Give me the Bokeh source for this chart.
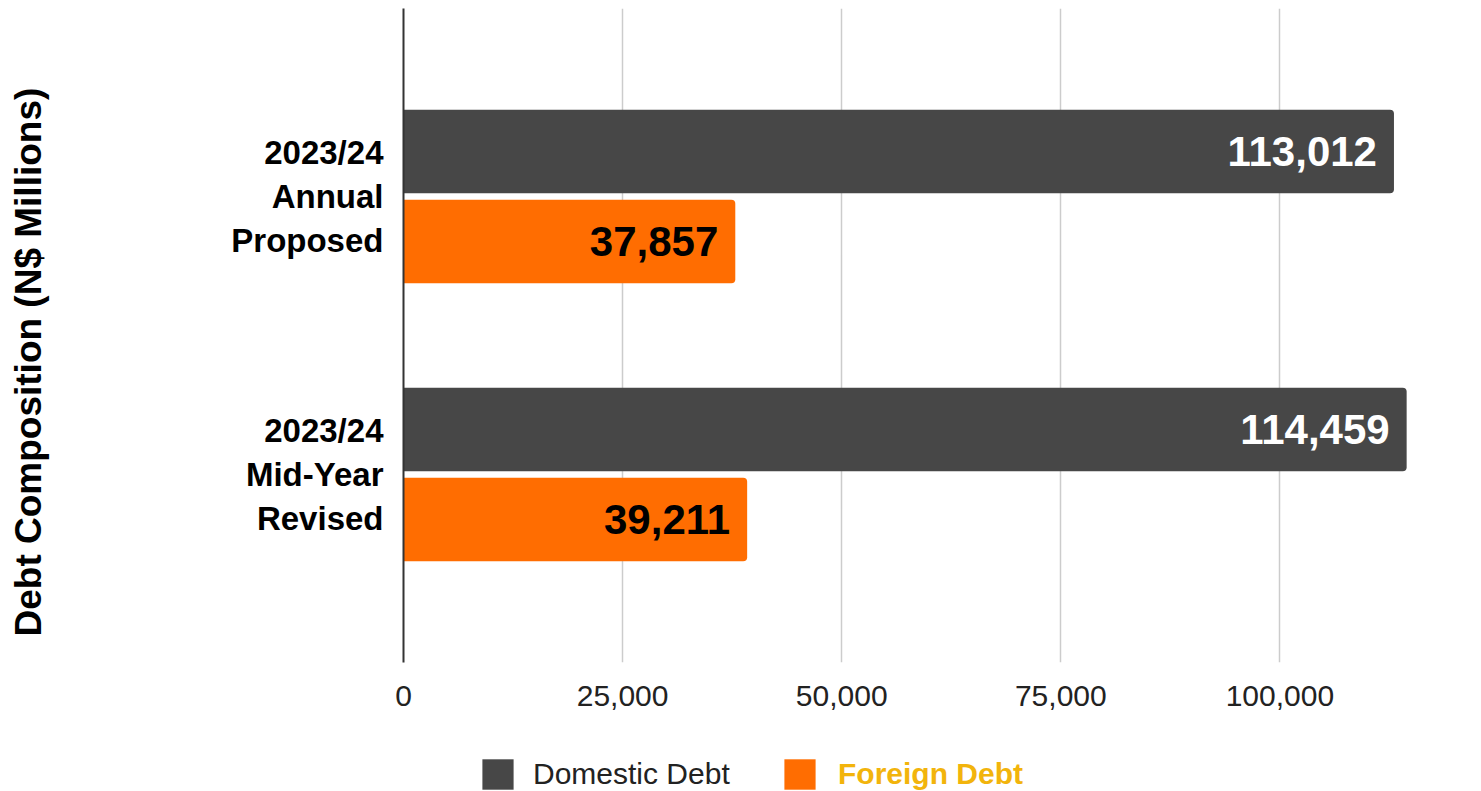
from bokeh.plotting import figure
from bokeh.layouts import column
from bokeh.models import (Range1d, Legend, LegendItem, ColumnDataSource,
                          FixedTicker, NumeralTickFormatter, Title, LinearAxis,
                          CustomJSTickFormatter)
from bokeh.transform import dodge
from bokeh.core.properties import value
from bokeh.embed import file_html
from bokeh.resources import INLINE

# ---- data ----
categories = ["2023/24\nAnnual\nProposed", "2023/24\nMid-Year\nRevised"]
domestic_debt = [113012, 114459]
foreign_debt = [37857, 39211]
x_ticks = [0, 25000, 50000, 75000, 100000]
series_names = ["Domestic Debt", "Foreign Debt"]
y_title = "Debt Composition (N$ Millions)"

FONT = value("Liberation Sans")
DOM_COLOR = "#474747"
FOR_COLOR = "#FF6D01"
LEG2_TEXT = "#F2B40C"

# category positions: first category on top
n = len(categories)
cat_pos = [n - 1 - i for i in range(n)]

src = ColumnDataSource(dict(
    pos=cat_pos,
    dom=domestic_debt,
    fore=foreign_debt,
    dom_lbl=[f"{v:,}" for v in domestic_debt],
    fore_lbl=[f"{v:,}" for v in foreign_debt],
))

p = figure(width=1481, height=720,
           y_range=Range1d(-0.676, n - 1 + 0.676),
           x_range=Range1d(0, 123000),
           output_backend="svg", toolbar_location=None,
           min_border_left=403, min_border_top=8, min_border_right=0,
           min_border_bottom=58)
p.outline_line_color = None
p.extra_y_ranges = {"spacer": Range1d(0, 1)}

r_dom = p.hbar(y=dodge("pos", 0.162), right="dom", left=0, height=0.3,
               source=src, fill_color=DOM_COLOR, line_color=None,
               border_radius=(0, 4, 4, 0))
r_for = p.hbar(y=dodge("pos", -0.162), right="fore", left=0, height=0.3,
               source=src, fill_color=FOR_COLOR, line_color=None,
               border_radius=(0, 4, 4, 0))

p.text(x="dom", y=dodge("pos", 0.162), text="dom_lbl", source=src,
       text_align="right", text_baseline="middle", x_offset=-17,
       text_font=FONT, text_font_style="bold", text_font_size="42px", text_color="white")
p.text(x="fore", y=dodge("pos", -0.162), text="fore_lbl", source=src,
       text_align="right", text_baseline="middle", x_offset=-17,
       text_font=FONT, text_font_style="bold", text_font_size="42px", text_color="black")

# x axis
p.xaxis.ticker = FixedTicker(ticks=x_ticks)
p.xaxis.formatter = NumeralTickFormatter(format="0,0")
p.xaxis.axis_line_color = None
p.xaxis.major_tick_line_color = None
p.xaxis.minor_tick_line_color = None
p.xaxis.major_tick_out = 0
p.xaxis.major_label_standoff = 23
p.xaxis.major_label_text_font = "Liberation Sans"
p.xaxis.major_label_text_font_size = "30px"
p.xaxis.major_label_text_color = "#222222"
p.xgrid.grid_line_color = "#cccccc"
p.xgrid.grid_line_width = 1.5

# y axis (category labels)
p.ygrid.grid_line_color = None
p.yaxis.ticker = FixedTicker(ticks=cat_pos)
p.yaxis.major_label_overrides = {pos: cat for pos, cat in zip(cat_pos, categories)}
p.yaxis.axis_line_color = "#333333"
p.yaxis.axis_line_width = 2
p.yaxis.major_tick_line_color = None
p.yaxis.minor_tick_line_color = None
p.yaxis.major_tick_out = 0
p.yaxis.minor_tick_out = 0
p.yaxis.major_label_standoff = 20
p.yaxis.major_label_text_font = "Liberation Sans"
p.yaxis.major_label_text_font_style = "bold"
p.yaxis.major_label_text_font_size = "33px"
p.yaxis.major_label_text_color = "black"

# invisible spacer axis (one hidden tick) to push the title to the far left
spacer = LinearAxis(y_range_name="spacer", ticker=FixedTicker(ticks=[0.5]),
                    formatter=CustomJSTickFormatter(code="return ''"),
                    axis_line_color=None, major_tick_line_color=None,
                    minor_tick_line_color=None, major_tick_out=180, minor_tick_out=0,
                    major_tick_in=0, minor_tick_in=0, major_label_standoff=0,
                    major_label_text_alpha=0)
p.add_layout(spacer, "left")

title = Title(text=y_title, align="left", offset=26, standoff=0, vertical_align="bottom",
              text_font="Liberation Sans", text_font_style="bold",
              text_font_size="37px", text_color="black")
p.add_layout(title, "left")

# ---- legend strip (separate plot so it is not clipped) ----
lg = figure(width=1481, height=71, output_backend="svg", toolbar_location=None,
            min_border_left=0, min_border_right=0, min_border_top=0, min_border_bottom=0,
            x_axis_type=None, y_axis_type=None)
lg.outline_line_color = None
lg.xgrid.grid_line_color = None
lg.ygrid.grid_line_color = None
d_dom = lg.hbar(y=[0], left=[0], right=[0], height=1, fill_color=DOM_COLOR, line_color=None,
                border_radius=3)
d_for = lg.hbar(y=[0], left=[0], right=[0], height=1, fill_color=FOR_COLOR, line_color=None,
                border_radius=3)

common = dict(padding=0, margin=0, border_line_color=None, background_fill_alpha=0,
              glyph_width=39, glyph_height=38,
              label_text_font="Liberation Sans", label_text_font_size="30px",
              label_text_baseline="middle")
leg1 = Legend(items=[LegendItem(label=series_names[0], renderers=[d_dom])],
              location=(75, -2), label_standoff=16, label_text_color="#222222", **common)
leg2 = Legend(items=[LegendItem(label=series_names[1], renderers=[d_for])],
              location=(377, -2), label_standoff=19, label_text_color=LEG2_TEXT,
              label_text_font_style="bold", **common)
lg.add_layout(leg1, "center")
lg.add_layout(leg2, "center")

layout = column(p, lg, spacing=0)
open("out.html", "w").write(file_html(layout, INLINE))
